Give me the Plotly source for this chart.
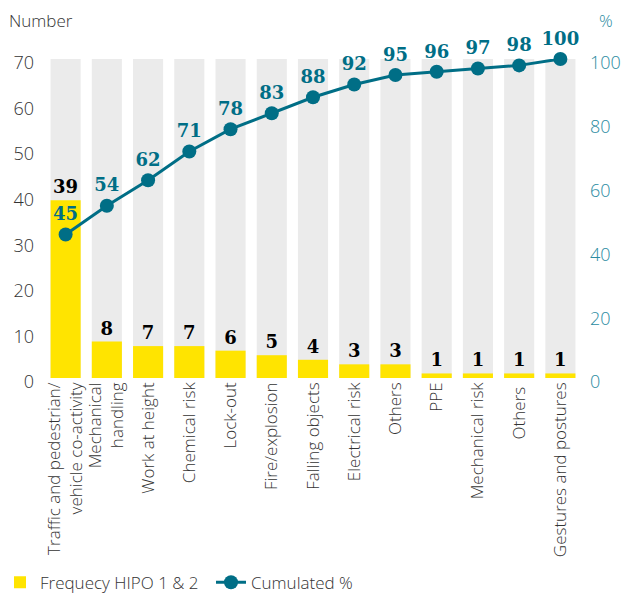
import plotly.graph_objects as go

# Risk categories, HIPO 1 & 2 frequency and cumulated share
categories = [
    "Traffic and pedestrian/<br>vehicle co-activity",
    "Mechanical<br>handling",
    "Work at height",
    "Chemical risk",
    "Lock-out",
    "Fire/explosion",
    "Falling objects",
    "Electrical risk",
    "Others",
    "PPE",
    "Mechanical risk",
    "Others ",
    "Gestures and postures",
]
frequency = [39, 8, 7, 7, 6, 5, 4, 3, 3, 1, 1, 1, 1]
cumulated_pct = [45, 54, 62, 71, 78, 83, 88, 92, 95, 96, 97, 98, 100]

number_axis_max = 70
pct_axis_max = 100

YELLOW = "#ffe400"
GREY = "#ebebeb"
TEAL = "#006e86"
TEAL_LIGHT = "#2a8ba1"
DARK = "#333333"
LABEL_FONT = "DejaVu Serif"
BODY_FONT = "Open Sans"

fig = go.Figure()

# Light grey backdrop bars spanning the full axis height
fig.add_trace(go.Bar(
    x=categories,
    y=[number_axis_max] * len(categories),
    marker=dict(color=GREY, line=dict(width=0)),
    showlegend=False,
    hoverinfo="skip",
))

fig.add_trace(go.Bar(
    x=categories,
    y=frequency,
    name="Frequecy HIPO 1 & 2",
    marker=dict(color=YELLOW, line=dict(width=0)),
    text=frequency,
    textposition="outside",
    textfont=dict(family=LABEL_FONT, size=18, color="#000000", weight="bold"),
    cliponaxis=False,
))

fig.add_trace(go.Scatter(
    x=categories,
    y=cumulated_pct,
    name="Cumulated %",
    yaxis="y2",
    mode="lines+markers+text",
    line=dict(color=TEAL, width=3),
    marker=dict(color=TEAL, size=14),
    text=cumulated_pct,
    textposition="top center",
    textfont=dict(family=LABEL_FONT, size=18, color=TEAL, weight="bold"),
    cliponaxis=False,
))

fig.update_layout(
    width=621,
    height=597,
    margin=dict(l=45, r=40, t=59, b=219, autoexpand=False),
    paper_bgcolor="white",
    plot_bgcolor="white",
    barmode="overlay",
    bargap=0.27,
    font=dict(family=BODY_FONT, color=DARK),
    xaxis=dict(
        range=[-0.5, len(categories) - 0.5],
        tickangle=-90,
        tickfont=dict(family=BODY_FONT, size=17, color=DARK, weight=300),
        showgrid=False,
        showline=False,
        ticks="",
        automargin=False,
        fixedrange=True,
    ),
    yaxis=dict(
        range=[0, number_axis_max],
        dtick=10,
        showgrid=False,
        zeroline=False,
        showline=False,
        ticks="",
        automargin=False,
        tickfont=dict(family=BODY_FONT, size=18, color=DARK, weight=300),
        ticklabelshift=4,
        ticklabelstandoff=10,
    ),
    yaxis2=dict(
        range=[0, pct_axis_max],
        dtick=20,
        overlaying="y",
        side="right",
        showgrid=False,
        zeroline=False,
        showline=False,
        ticks="",
        automargin=False,
        tickfont=dict(family=BODY_FONT, size=18, color=TEAL_LIGHT, weight=300),
        ticklabelshift=4,
        ticklabelstandoff=8,
    ),
    legend=dict(
        orientation="h",
        xref="container",
        yref="container",
        x=0.0,
        y=0.024,
        xanchor="left",
        yanchor="middle",
        font=dict(family=BODY_FONT, size=17, color=DARK, weight=300),
        entrywidth=166,
        traceorder="normal",
    ),
    annotations=[
        dict(text="Number", xref="paper", yref="paper", x=-0.071, y=1.122,
             xanchor="left", yanchor="middle", showarrow=False,
             font=dict(family=BODY_FONT, size=17, color=DARK, weight=300)),
        dict(text="%", xref="paper", yref="paper", x=1.03, y=1.122,
             xanchor="left", yanchor="middle", showarrow=False,
             font=dict(family=BODY_FONT, size=17, color=TEAL_LIGHT, weight=300)),
    ],
)

fig.write_html("out.html")
